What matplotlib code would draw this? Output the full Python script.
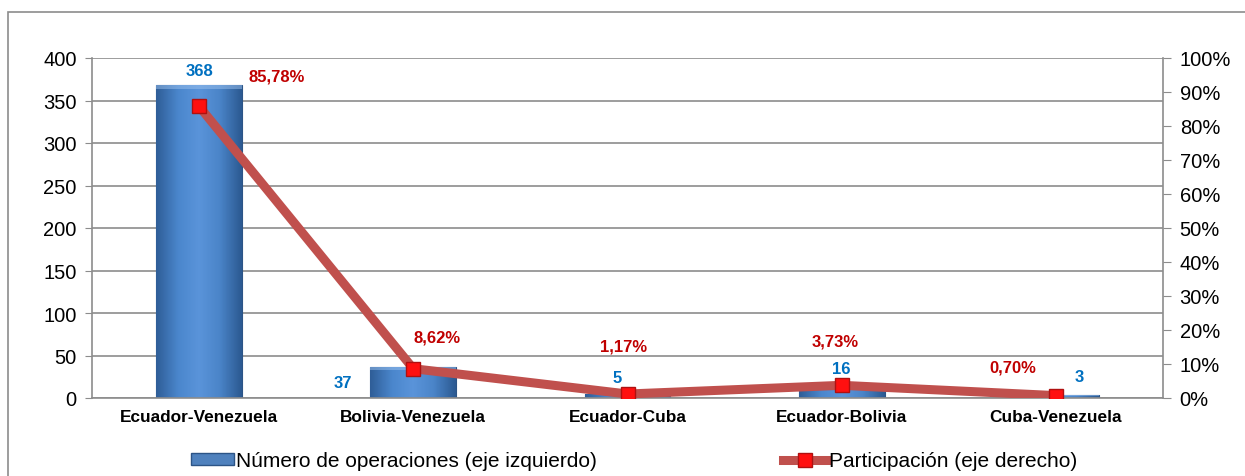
import numpy as np
import matplotlib.pyplot as plt
from matplotlib.patches import Rectangle
from matplotlib.lines import Line2D
from matplotlib.colors import LinearSegmentedColormap

plt.rcParams['font.family'] = ['Liberation Sans', 'DejaVu Sans']

pares = ['Ecuador-Venezuela', 'Bolivia-Venezuela', 'Ecuador-Cuba',
         'Ecuador-Bolivia', 'Cuba-Venezuela']
operaciones = [368, 37, 5, 16, 3]
participacion = [85.78, 8.62, 1.17, 3.73, 0.70]
pct_labels = ['85,78%', '8,62%', '1,17%', '3,73%', '0,70%']

BLUE = '#4F81BD'
LINE_RED = '#C0504D'
LBL_BLUE = '#0070C0'
LBL_RED = '#C00000'

fig = plt.figure(figsize=(12.45, 4.77), dpi=100)
# outer frame of the chart area
fig.patches.append(Rectangle((8 / 1245, -0.1), 1.2, 1 - 13 / 477 + 0.1,
                             transform=fig.transFigure, fill=False,
                             edgecolor='#8c8c8c', lw=1.2))

ax = fig.add_axes([92 / 1245, 1 - 399 / 477, (1163 - 92) / 1245, (399 - 59) / 477])
x = np.arange(len(pares))

bars = ax.bar(x, operaciones, width=0.4, color=BLUE, edgecolor='#2c5486',
              lw=0.8, zorder=2)

# horizontal shading on each bar
cmap = LinearSegmentedColormap.from_list('barra', ['#2f5e98', '#4a86cc', '#5a94da', '#4a84c8', '#2c5a92'])
grad = np.linspace(0, 1, 64).reshape(1, -1)
for b in bars:
    x0, y0 = b.get_x(), b.get_y()
    w, h = b.get_width(), b.get_height()
    im = ax.imshow(grad, cmap=cmap, aspect='auto', extent=(x0, x0 + w, y0, y0 + h),
                   zorder=2.1)
    im.set_clip_path(b)
    top = ax.fill_between([x0, x0 + w], y0 + h - min(h * 0.15, 4), y0 + h,
                          color='#9cc2ee', alpha=0.5, lw=0, zorder=2.2)
    top.set_clip_path(b)

ax.set_xlim(-0.5, len(pares) - 0.5)
ax.set_ylim(0, 400)
ax.set_yticks(range(0, 401, 50))
ax.set_xticks(x)
ax.set_xticklabels(pares, fontsize=12.4, fontweight='bold')
ax.tick_params(axis='y', labelsize=14.5, length=5, color='#8c8c8c', pad=6)
ax.tick_params(axis='x', length=0, pad=8)
ax.grid(axis='y', color='#8c8c8c', lw=1.2, zorder=0)
ax.set_axisbelow(True)
for side in ['top', 'right']:
    ax.spines[side].set_visible(False)
for side in ['left', 'bottom']:
    ax.spines[side].set_color('#8c8c8c')
    ax.spines[side].set_linewidth(1.2)

# bar value labels
offsets = [(0, 5, 'center'), (-0.285, -17, 'right'), (-0.05, 6, 'center'),
           (0, 6, 'center'), (0.11, 8, 'center')]
for xi, v, (dx, dy, ha) in zip(x, operaciones, offsets):
    ax.annotate(str(v), (xi + dx, v), xytext=(0, dy), textcoords='offset points',
                ha=ha, va='bottom', color=LBL_BLUE, fontsize=12, fontweight='bold')

ax2 = ax.twinx()
ax2.set_ylim(0, 100)
ax2.set_yticks(range(0, 101, 10))
ax2.set_yticklabels([f'{t}%' for t in range(0, 101, 10)])
ax2.tick_params(axis='y', labelsize=14.5, length=6, color='#8c8c8c', pad=6)
for side in ['top', 'left', 'bottom']:
    ax2.spines[side].set_visible(False)
ax2.spines['right'].set_color('#8c8c8c')
ax2.spines['right'].set_linewidth(1.2)

ax2.plot(x, participacion, color=LINE_RED, lw=6.5, solid_capstyle='round',
         solid_joinstyle='miter', zorder=3)
ax2.plot(x, participacion, ls='none', marker='s', ms=10, mfc='#ff1010',
         mec='#b01010', mew=1, zorder=4)

pct_pos = [(0.36, 92.6), (0.11, 15.6), (-0.02, 13.2), (-0.03, 14.7), (-0.2, 6.8)]
for xi, lbl, (dx, yy) in zip(x, pct_labels, pct_pos):
    ax2.text(xi + dx, yy, lbl, ha='center', va='bottom', color=LBL_RED,
             fontsize=12, fontweight='bold')

handles = [Rectangle((0, 0), 1, 1, facecolor=BLUE, edgecolor='#2c5486'),
           Line2D([], [], color=LINE_RED, lw=6.5, marker='s', ms=10,
                  mfc='#ff1010', mec='#b01010')]
fig.legend(handles, ['Número de operaciones (eje izquierdo)', 'Participación (eje derecho)'],
           loc='center', bbox_to_anchor=(0.509, 1 - 462 / 477), ncol=2, frameon=False,
           fontsize=15, handlelength=2.1, handleheight=0.45, handletextpad=0.1,
           columnspacing=8.9)

fig.savefig('out.png', dpi=100)
